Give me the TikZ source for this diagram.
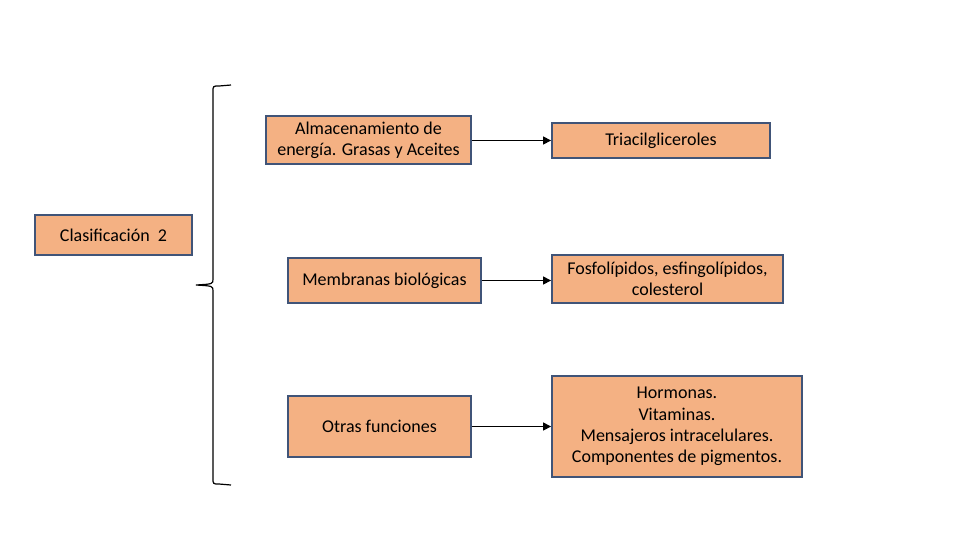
\documentclass[tikz,border=0pt]{standalone}
\usepackage{fontspec}
\setmainfont{Carlito}
\usepackage{tikz}
\usetikzlibrary{arrows.meta,positioning}
\definecolor{boxfill}{RGB}{244,177,131}
\definecolor{boxline}{RGB}{64,84,120}

\begin{document}
\begin{tikzpicture}[
    x=0.75pt, y=-0.75pt,
    item/.style={rectangle, draw=boxline, fill=boxfill, line width=1.4pt, align=center, inner sep=2pt,
        font=\fontsize{13.5}{16}\selectfont},
    arrow/.style={-{Triangle[length=6pt, width=6pt]}, line width=1.1pt}
]
\useasboundingbox (0,0) rectangle (960,540);

% Left side
\node[item, minimum width=117.75pt, minimum height=30pt] (clas) at (113.5,235) {Clasificación~~2};

% Middle column
\node[item, minimum width=153.75pt, minimum height=36pt] (alm) at (368.5,140) {Almacenamiento de\\energía. Grasas y Aceites};
\node[item, minimum width=144.75pt, minimum height=33.75pt] (mem) at (384.5,280.5) {Membranas biológicas};
\node[item, minimum width=137.25pt, minimum height=45.75pt] (otr) at (379.5,426.5) {Otras funciones};

% Right column
\node[item, minimum width=163.5pt, minimum height=26.25pt] (tri) at (661,140.5) {Triacilgliceroles};
\node[item, minimum width=173.25pt, minimum height=36pt] (fos) at (667.5,279) {Fosfolípidos, esfingolípidos,\\colesterol};
\node[item, minimum width=187.5pt, minimum height=75.75pt] (hor) at (677,426.5) {Hormonas.\\Vitaminas.\\Mensajeros intracelulares.\\Componentes de pigmentos.};

% Brace
\coordinate (brtop) at (231,85);
\coordinate (brmid) at (196,285);
\coordinate (brbot) at (231,485);
\draw[line width=0.9pt] (brtop) -- (219,86) .. controls (213,86) .. (213,92) -- (213,279)
    .. controls (213,284) .. (brmid) .. controls (213,286) .. (213,291) -- (213,478)
    .. controls (213,484) .. (219,484) -- (brbot);

% Arrows
\draw[arrow] (alm.east |- tri.west) -- (tri.west);
\draw[arrow] (mem.east) -- (fos.west |- mem.east);
\draw[arrow] (otr.east) -- (hor.west |- otr.east);

\end{tikzpicture}
\end{document}
